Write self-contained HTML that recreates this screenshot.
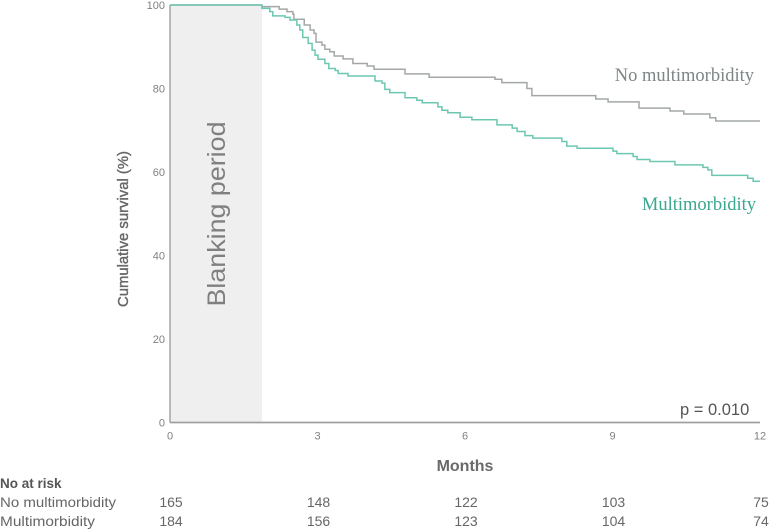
<!DOCTYPE html>
<html lang="en">
<head>
<meta charset="utf-8">
<title>Cumulative survival by multimorbidity</title>
<style>
html,body{margin:0;padding:0;background:#fff;width:771px;height:530px;overflow:hidden}
svg{display:block;filter:blur(0.35px)}
text{font-family:"Liberation Sans",sans-serif}
</style>
</head>
<body>
<svg id="chart" width="771" height="530" viewBox="0 0 771 530" xmlns="http://www.w3.org/2000/svg">
  <g id="band-layer"></g>
  <g id="axis-layer"></g>
  <g id="line-layer"></g>
  <text transform="translate(128,229) rotate(-90)" text-anchor="middle" font-size="15" fill="#666" stroke="#666" stroke-width="0.4" textLength="156" lengthAdjust="spacingAndGlyphs">Cumulative survival (%)</text>
  <text transform="translate(225,214) rotate(-90)" text-anchor="middle" font-size="25" fill="#808080" textLength="185" lengthAdjust="spacingAndGlyphs">Blanking period</text>
  <text x="465" y="471" text-anchor="middle" font-size="16" font-weight="bold" fill="#6a6a6a">Months</text>
  <text x="754" y="81" text-anchor="end" font-size="18.5" fill="#7d8585" style="font-family:'Liberation Serif',serif">No multimorbidity</text>
  <text x="756" y="210" text-anchor="end" font-size="18.5" fill="#3aa78f" style="font-family:'Liberation Serif',serif">Multimorbidity</text>
  <text x="680" y="415" font-size="16.5" fill="#555">p = 0.010</text>
  <text x="0" y="488" font-size="13.5" font-weight="bold" fill="#555">No at risk</text>
  <text x="0" y="507" font-size="14" fill="#666" textLength="116" lengthAdjust="spacingAndGlyphs">No multimorbidity</text>
  <text x="0" y="526" font-size="14" fill="#666" textLength="95" lengthAdjust="spacingAndGlyphs">Multimorbidity</text>
  <g id="risk-layer"></g>
</svg>
<script>
var xTicks = [0, 3, 6, 9, 12];
var yTicks = [0, 20, 40, 60, 80, 100];
var blankingEnd = 1.87;

var noMultiMonths = [0, 1.87, 2.22, 2.38, 2.50, 2.52, 2.73, 2.85, 2.93, 2.97, 3.09, 3.15, 3.25, 3.34, 3.52, 3.72, 4.01, 4.15, 4.78, 5.27, 6.61, 6.75, 7.26, 7.36, 8.66, 8.91, 9.54, 10.17, 10.45, 10.98, 11.10, 12];
var noMultiSurvival = [100, 99.6, 99.0, 98.4, 97.8, 96.6, 95.2, 94.0, 93.2, 91.1, 90.4, 89.4, 88.8, 87.8, 87.1, 86.0, 85.4, 84.6, 83.5, 82.7, 82.2, 81.4, 80.0, 78.3, 77.5, 76.8, 75.3, 74.6, 73.9, 73.0, 72.2, 72.2];

var multiMonths = [0, 1.87, 2.03, 2.09, 2.34, 2.44, 2.58, 2.64, 2.70, 2.81, 2.89, 2.95, 3.01, 3.15, 3.23, 3.36, 3.42, 3.62, 4.17, 4.31, 4.37, 4.47, 4.78, 5.02, 5.13, 5.45, 5.53, 5.65, 5.90, 6.14, 6.65, 6.96, 7.06, 7.22, 7.38, 7.97, 8.07, 8.28, 9.01, 9.09, 9.42, 9.50, 9.76, 10.27, 10.84, 10.94, 11.02, 11.75, 11.86, 12];
var multiSurvival = [100, 99.2, 98.4, 97.4, 97.05, 96.4, 95.2, 94.0, 92.2, 90.8, 89.2, 88.0, 87.0, 86.0, 84.8, 84.3, 83.6, 83.0, 81.8, 81.3, 79.8, 79.0, 77.8, 77.2, 76.6, 75.6, 74.8, 74.2, 73.1, 72.5, 71.3, 70.5, 69.7, 68.7, 68.1, 67.3, 66.2, 65.7, 65.0, 64.4, 63.7, 63.0, 62.5, 61.7, 61.1, 60.5, 59.2, 58.5, 57.8, 57.8];

var riskMonths = [0, 3, 6, 9, 12];
var riskNoMulti = [165, 148, 122, 103, 75];
var riskMulti = [184, 156, 123, 104, 74];

var NS = 'http://www.w3.org/2000/svg';
function xScale(m) { return 170 + m * (590 / 12); }
function yScale(s) { return 422.5 - s * 4.175; }
function make(tag, parent) {
  var el = document.createElementNS(NS, tag);
  parent.appendChild(el);
  return el;
}
function stepPath(months, survival) {
  var d = 'M' + xScale(months[0]) + ' ' + yScale(survival[0]);
  for (var i = 1; i < months.length; i++) {
    d += 'H' + xScale(months[i]).toFixed(2) + 'V' + yScale(survival[i]).toFixed(2);
  }
  return d;
}

var bandLayer = document.getElementById('band-layer');
var axisLayer = document.getElementById('axis-layer');
var lineLayer = document.getElementById('line-layer');
var riskLayer = document.getElementById('risk-layer');

var band = make('rect', bandLayer);


band.setAttribute('x', xScale(0));
band.setAttribute('y', yScale(100));
band.setAttribute('width', xScale(blankingEnd) - xScale(0));
band.setAttribute('height', yScale(0) - yScale(100));
band.setAttribute('fill', '#efefef');

var yAxis = make('line', axisLayer);


yAxis.setAttribute('x1', xScale(0));
yAxis.setAttribute('x2', xScale(0));
yAxis.setAttribute('y1', yScale(100));
yAxis.setAttribute('y2', yScale(0));
yAxis.setAttribute('stroke', '#a9a9a9');
yAxis.setAttribute('stroke-width', '1.6');

var xAxis = make('line', axisLayer);


xAxis.setAttribute('x1', xScale(0));
xAxis.setAttribute('x2', xScale(12));
xAxis.setAttribute('y1', yScale(0));
xAxis.setAttribute('y2', yScale(0));
xAxis.setAttribute('stroke', '#a0a0a0');
xAxis.setAttribute('stroke-width', '1.8');

xTicks.forEach(function (t) {
  var label = make('text', axisLayer);
  
  
  label.setAttribute('x', xScale(t));
  label.setAttribute('y', 439.5);
  label.setAttribute('text-anchor', 'middle');
  label.setAttribute('font-size', '11');
  label.setAttribute('fill', '#808080');
  label.textContent = t;
});

yTicks.forEach(function (t) {
  var label = make('text', axisLayer);
  
  
  label.setAttribute('x', 165);
  label.setAttribute('y', yScale(t) + 4);
  label.setAttribute('text-anchor', 'end');
  label.setAttribute('font-size', '11');
  label.setAttribute('fill', '#808080');
  label.textContent = t;
});

var noMultiLine = make('path', lineLayer);


noMultiLine.setAttribute('d', stepPath(noMultiMonths, noMultiSurvival));
noMultiLine.setAttribute('fill', 'none');
noMultiLine.setAttribute('stroke', '#a3a8a6');
noMultiLine.setAttribute('stroke-width', '1.5');

var multiLine = make('path', lineLayer);


multiLine.setAttribute('d', stepPath(multiMonths, multiSurvival));
multiLine.setAttribute('fill', 'none');
multiLine.setAttribute('stroke', '#6cc7b1');
multiLine.setAttribute('stroke-width', '1.5');

riskMonths.forEach(function (m, i) {
  var top = make('text', riskLayer);
  
  
  top.setAttribute('x', xScale(m) + 1);
  top.setAttribute('y', 507);
  top.setAttribute('text-anchor', 'middle');
  top.setAttribute('font-size', '14');
  top.setAttribute('fill', '#666');
  top.textContent = riskNoMulti[i];

  var bottom = make('text', riskLayer);
  
  
  bottom.setAttribute('x', xScale(m) + 1);
  bottom.setAttribute('y', 526);
  bottom.setAttribute('text-anchor', 'middle');
  bottom.setAttribute('font-size', '14');
  bottom.setAttribute('fill', '#666');
  bottom.textContent = riskMulti[i];
});
</script>
</body>
</html>
